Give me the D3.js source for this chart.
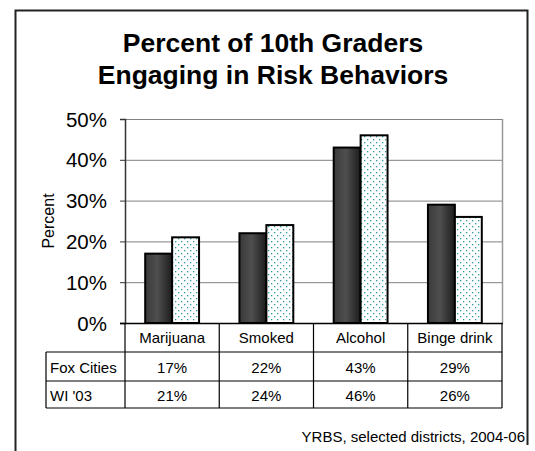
<!DOCTYPE html>
<html><head><meta charset="utf-8">
<script src="https://cdn.jsdelivr.net/npm/d3@7"></script>
<style>body{margin:0;background:#fff}svg{display:block;font-family:"Liberation Sans",Arial,sans-serif}</style>
</head><body>
<script>
const categories = ["Marijuana","Smoked","Alcohol","Binge drink"];
const seriesNames = ["Fox Cities","WI '03"];
const foxCities = [17,22,43,29];
const wi03 = [21,24,46,26];
const yTicks = [0,10,20,30,40,50];
const titleLines = ["Percent of 10th Graders","Engaging in Risk Behaviors"];
const source = "YRBS, selected districts, 2004-06";

const W=535,H=451;
const svg=d3.select("body").append("svg").attr("width",W).attr("height",H);
const defs=svg.append("defs");
const g1=defs.append("linearGradient").attr("id","dark").attr("x1","0").attr("x2","1").attr("y1","0").attr("y2","0");
g1.append("stop").attr("offset","0").attr("stop-color","#3a3a3a");
g1.append("stop").attr("offset","0.45").attr("stop-color","#4f4f4f");
g1.append("stop").attr("offset","1").attr("stop-color","#1c1c1c");
const pat=defs.append("pattern").attr("id","dots").attr("patternUnits","userSpaceOnUse").attr("width",6).attr("height",6);
pat.append("rect").attr("width",6).attr("height",6).attr("fill","#fff");
pat.append("rect").attr("x",1).attr("y",1).attr("width",1.3).attr("height",1.3).attr("fill","#2a9a9a");
pat.append("rect").attr("x",4).attr("y",4).attr("width",1.3).attr("height",1.3).attr("fill","#2a9a9a");

// frame
svg.append("path").attr("d","M15.5,451 V10.5 H527.5 V445").attr("fill","none").attr("stroke","#222").attr("stroke-width",2);

// title
svg.selectAll("text.title").data(titleLines).join("text").attr("class","title")
  .attr("x",273).attr("y",(d,i)=>52+i*32).attr("text-anchor","middle")
  .attr("font-size",26.5).attr("font-weight","bold").text(d=>d);

const L=125,R=502,T=119,B=323;
const x=d3.scaleBand().domain(categories).range([L,R]);
const y=d3.scaleLinear().domain([0,50]).range([B,T]);
const xs=d3.scaleBand().domain(seriesNames).range([0,x.bandwidth()]).paddingOuter(0.75).paddingInner(0);

// gridlines
svg.append("g").selectAll("line").data(yTicks.filter(t=>t>0)).join("line")
  .attr("x1",L).attr("x2",R).attr("y1",d=>y(d)+0.5).attr("y2",d=>y(d)+0.5)
  .attr("stroke","#808080").attr("stroke-width",1);
svg.append("line").attr("x1",R+0.5).attr("x2",R+0.5).attr("y1",T).attr("y2",B).attr("stroke","#999").attr("stroke-width",1.5);

// y axis
const ya=svg.append("g").attr("transform",`translate(${L},0)`)
  .call(d3.axisLeft(y).tickValues(yTicks).tickFormat(d=>d+"%").tickSize(5).tickPadding(13));
ya.select(".domain").attr("stroke","#333").attr("stroke-width",1.5);
ya.selectAll(".tick line").attr("stroke","#333");
ya.selectAll(".tick text").attr("font-size",20.5).attr("font-family","Liberation Sans, Arial, sans-serif").attr("fill","#000").attr("dy","0.35em");
svg.append("text").attr("transform",`translate(54,${(T+B)/2}) rotate(-90)`).attr("text-anchor","middle")
  .attr("font-size",16).text("Percent");

// bars
const data=categories.map((c,i)=>({c,vals:[{s:seriesNames[0],v:foxCities[i]},{s:seriesNames[1],v:wi03[i]}]}));
const gb=svg.append("g");
data.forEach(d=>{
  gb.selectAll(null).data(d.vals).join("rect")
    .attr("x",v=>x(d.c)+xs(v.s)).attr("width",xs.bandwidth())
    .attr("y",v=>y(v.v)).attr("height",v=>B-y(v.v))
    .attr("fill",(v,i)=>i===0?"url(#dark)":"url(#dots)")
    .attr("stroke","#000").attr("stroke-width",2);
});

// bottom axis line
svg.append("line").attr("x1",L-5).attr("x2",R+1).attr("y1",B+0.5).attr("y2",B+0.5).attr("stroke","#000").attr("stroke-width",1.5);

// data table
const tL=46, r1=352, r2=381, r3=408;
const tg=svg.append("g").attr("stroke","#000").attr("stroke-width",1.2);
tg.append("line").attr("x1",tL).attr("x2",R).attr("y1",r1).attr("y2",r1);
tg.append("line").attr("x1",tL).attr("x2",R).attr("y1",r2).attr("y2",r2);
tg.append("line").attr("x1",tL).attr("x2",R).attr("y1",r3).attr("y2",r3);
tg.append("line").attr("x1",tL).attr("x2",tL).attr("y1",r1).attr("y2",r3);
const vx=categories.map(c=>x(c)).concat([R]);
tg.selectAll(null).data(vx).join("line").attr("x1",d=>d).attr("x2",d=>d).attr("y1",B).attr("y2",r3);
svg.selectAll("text.cat").data(categories).join("text").attr("class","cat")
  .attr("x",d=>x(d)+x.bandwidth()/2).attr("y",343).attr("text-anchor","middle").attr("font-size",15).text(d=>d);
[foxCities,wi03].forEach((arr,ri)=>{
  const cy=ri===0?373:401;
  svg.append("text").attr("x",tL+4).attr("y",cy).attr("font-size",15).text(seriesNames[ri]);
  svg.selectAll(null).data(arr).join("text").attr("x",(d,i)=>x(categories[i])+x.bandwidth()/2).attr("y",cy)
    .attr("text-anchor","middle").attr("font-size",15).text(d=>d+"%");
});

svg.append("text").attr("x",525).attr("y",442).attr("text-anchor","end").attr("font-size",15).text(source);
</script>
</body></html>
